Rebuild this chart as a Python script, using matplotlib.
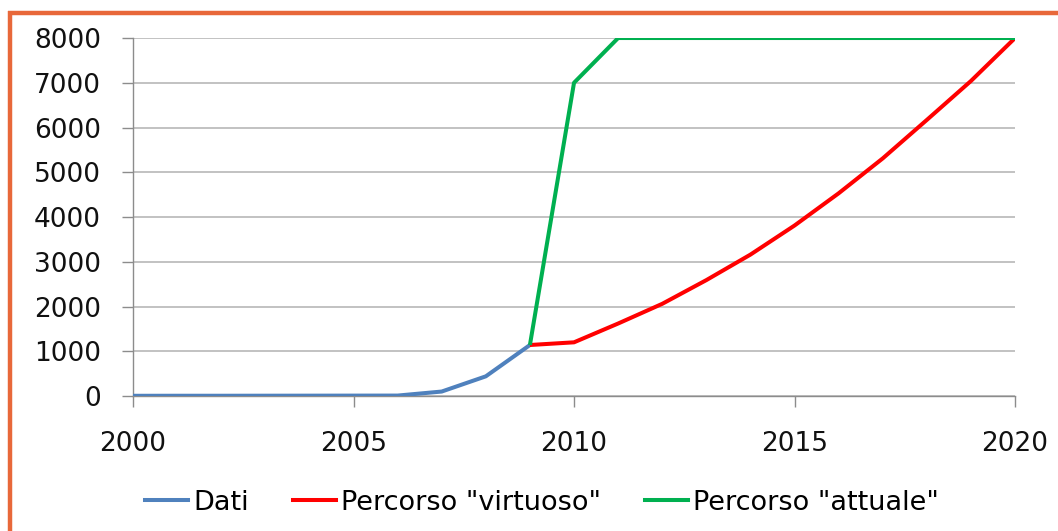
import matplotlib
matplotlib.use("Agg")
import matplotlib.pyplot as plt
from matplotlib.lines import Line2D

years_dati = [2000, 2001, 2002, 2003, 2004, 2005, 2006, 2007, 2008, 2009]
dati = [5, 6, 6, 7, 8, 9, 10, 100, 440, 1140]

years_proj = list(range(2009, 2021))
virtuoso = [1140, 1200, 1620, 2060, 2590, 3160, 3810, 4530, 5310, 6170, 7040, 8000]
attuale = [1140, 7000, 8000, 8000, 8000, 8000, 8000, 8000, 8000, 8000, 8000, 8000]

labels = ["Dati", 'Percorso "virtuoso"', 'Percorso "attuale"']
colors = ["#4F81BD", "#FF0000", "#00B050"]
xticks = [2000, 2005, 2010, 2015, 2020]
yticks = list(range(0, 8001, 1000))

fig = plt.figure(figsize=(10.58, 5.31), dpi=100)
ax = fig.add_axes([0.1257, 0.2542, 0.8337, 0.6742])

ax.plot(years_dati, dati, color=colors[0], lw=2.9, label=labels[0], solid_capstyle="butt", zorder=3)
ax.plot(years_proj, virtuoso, color=colors[1], lw=2.9, label=labels[1], solid_capstyle="butt", zorder=3)
ax.plot(years_proj, attuale, color=colors[2], lw=2.9, label=labels[2], solid_capstyle="butt", zorder=4)

ax.set_xlim(2000, 2020)
ax.set_ylim(0, 8000)
ax.set_xticks(xticks)
ax.set_yticks(yticks)
ax.yaxis.grid(True, color="#BDBDBD", lw=1.3)
ax.set_axisbelow(True)
for s in ["top", "right"]:
    ax.spines[s].set_visible(False)
ax.spines["left"].set_color("#8C8C8C")
ax.spines["bottom"].set_color("#8C8C8C")
ax.spines["left"].set_linewidth(1.0)
ax.spines["bottom"].set_linewidth(1.0)
ax.tick_params(axis="both", direction="out", length=8, width=1.0, color="#8C8C8C",
               labelsize=19, labelcolor="#111111")
ax.tick_params(axis="x", pad=17)
ax.tick_params(axis="y", pad=15)

handles = [Line2D([], [], color=c, lw=2.9) for c in colors]
fig.legend(handles, labels, loc="center", bbox_to_anchor=(0.5123, 0.053), ncol=3,
           frameon=False, fontsize=19.5, handlelength=1.6, handletextpad=0.2,
           columnspacing=1.6, borderpad=0, borderaxespad=0)

orange = "#E8683A"
fig.add_artist(Line2D([8 / 1058, 1.0], [1 - 13 / 531, 1 - 13 / 531], transform=fig.transFigure,
                      color=orange, lw=3.2, solid_capstyle="butt"))
fig.add_artist(Line2D([10 / 1058, 10 / 1058], [0.0, 1 - 11 / 531], transform=fig.transFigure,
                      color=orange, lw=3.2, solid_capstyle="butt"))

fig.savefig("out.png", dpi=100)
